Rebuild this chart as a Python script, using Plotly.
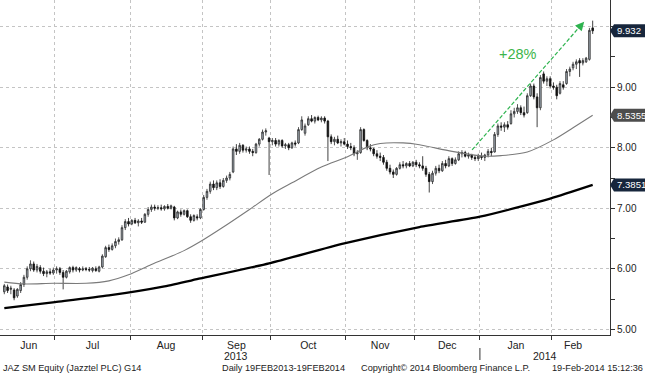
import pandas as pd
import plotly.graph_objects as go

# ---------------- data ----------------
HOLIDAYS = ["2013-12-25", "2013-12-26", "2014-01-01"]
_d = pd.bdate_range("2013-06-07", "2014-02-19")
DATES = _d[~_d.isin(pd.to_datetime(HOLIDAYS))]

OPEN = [
    # Jun
    5.62, 5.70, 5.66, 5.65, 5.55, 5.64, 5.74, 5.86, 6.00, 6.08, 5.98, 6.02, 5.96, 5.92, 5.95, 5.93,
    # Jul
    5.98, 6.00, 5.94, 5.86, 5.95, 6.02, 5.98, 6.00, 5.98, 6.00, 5.99, 5.97, 6.00, 5.96, 6.03, 6.20,
    6.35, 6.32, 6.38, 6.45, 6.48, 6.68, 6.78,
    # Aug
    6.74, 6.80, 6.76, 6.79, 6.77, 6.90, 6.98, 7.02, 7.00, 7.01, 6.99, 7.03, 7.00, 7.02, 6.84, 6.94,
    6.90, 6.96, 6.86, 6.80, 6.86, 6.84,
    # Sep
    6.98, 7.18, 7.28, 7.40, 7.34, 7.42, 7.36, 7.46, 7.50, 7.60, 7.98, 7.94, 8.04, 7.96, 7.98, 7.94,
    7.92, 8.06, 8.14, 8.26, 8.16,
    # Oct
    8.10, 8.12, 8.06, 8.12, 8.03, 8.05, 8.00, 8.08, 8.08, 8.30, 8.24, 8.38, 8.48, 8.44, 8.50, 8.46,
    8.49, 8.44, 8.18, 8.10, 8.14, 8.08, 8.10,
    # Nov
    8.06, 8.02, 8.00, 7.90, 7.92, 8.30, 8.12, 8.00, 7.98, 7.90, 7.86, 7.84, 7.76, 7.66, 7.60, 7.56,
    7.66, 7.72, 7.70, 7.74, 7.70,
    # Dec
    7.76, 7.72, 7.70, 7.66, 7.56, 7.44, 7.58, 7.66, 7.62, 7.74, 7.70, 7.82, 7.74, 7.80, 7.90, 7.92,
    7.86, 7.88, 7.84, 7.82,
    # Jan
    7.86, 7.84, 7.88, 7.94, 7.93, 8.22, 8.36, 8.34, 8.38, 8.40, 8.56, 8.60, 8.66, 8.58, 8.58, 8.86,
    9.02, 8.84, 8.66, 9.22, 9.10, 9.14,
    # Feb
    9.02, 9.00, 8.90, 9.04, 9.06, 9.26, 9.32, 9.38, 9.44, 9.40, 9.42, 9.46, 9.98,
]
HIGH = [
    5.75, 5.74, 5.72, 5.68, 5.68, 5.78, 5.90, 6.04, 6.14, 6.12, 6.08, 6.06, 6.02, 5.98, 6.00, 6.02,
    6.04, 6.03, 5.98, 5.98, 6.04, 6.05, 6.04, 6.03, 6.04, 6.03, 6.03, 6.03, 6.04, 6.05, 6.24, 6.38,
    6.40, 6.42, 6.50, 6.52, 6.72, 6.82, 6.84,
    6.82, 6.84, 6.82, 6.84, 6.92, 7.02, 7.06, 7.06, 7.05, 7.06, 7.05, 7.07, 7.06, 7.04, 6.96, 6.98,
    6.98, 6.98, 6.90, 6.90, 6.90, 7.00,
    7.22, 7.32, 7.44, 7.46, 7.46, 7.48, 7.50, 7.54, 7.60, 8.02, 8.06, 8.08, 8.06, 8.02, 8.02, 7.98,
    8.08, 8.16, 8.30, 8.32, 8.18,
    8.16, 8.16, 8.14, 8.14, 8.08, 8.08, 8.10, 8.12, 8.34, 8.52, 8.40, 8.52, 8.54, 8.52, 8.53, 8.52,
    8.52, 8.46, 8.22, 8.18, 8.20, 8.14, 8.16,
    8.12, 8.08, 8.04, 7.96, 8.34, 8.32, 8.14, 8.06, 8.00, 7.96, 7.92, 7.88, 7.80, 7.72, 7.64, 7.68,
    7.76, 7.78, 7.76, 7.78, 7.78,
    7.80, 7.76, 7.86, 7.70, 7.60, 7.62, 7.70, 7.72, 7.78, 7.80, 7.86, 7.84, 7.84, 7.94, 7.96, 7.95,
    7.92, 7.90, 7.88, 7.90,
    7.92, 7.90, 7.98, 8.00, 8.26, 8.40, 8.42, 8.42, 8.44, 8.62, 8.66, 8.72, 8.70, 8.68, 8.90, 9.06,
    9.06, 8.90, 9.20, 9.26, 9.18, 9.18,
    9.08, 9.04, 9.10, 9.10, 9.30, 9.34, 9.42, 9.46, 9.48, 9.48, 9.50, 9.98, 10.10,
]
LOW = [
    5.58, 5.60, 5.58, 5.48, 5.52, 5.60, 5.70, 5.82, 5.96, 5.95, 5.94, 5.92, 5.88, 5.86, 5.90, 5.90,
    5.92, 5.90, 5.66, 5.84, 5.92, 5.94, 5.95, 5.94, 5.96, 5.96, 5.95, 5.94, 5.95, 5.94, 6.01, 6.18,
    6.28, 6.30, 6.34, 6.40, 6.46, 6.64, 6.70,
    6.72, 6.74, 6.70, 6.74, 6.76, 6.86, 6.94, 6.96, 6.97, 6.96, 6.96, 6.98, 6.98, 6.80, 6.82, 6.86,
    6.88, 6.84, 6.76, 6.78, 6.80, 6.82,
    6.96, 7.14, 7.24, 7.30, 7.30, 7.32, 7.34, 7.42, 7.46, 7.58, 7.88, 7.90, 7.92, 7.92, 7.90, 7.86,
    7.90, 8.02, 8.12, 8.20, 7.55,
    8.04, 8.02, 8.02, 8.00, 7.98, 7.96, 7.98, 8.02, 8.06, 8.28, 8.20, 8.36, 8.42, 8.40, 8.44, 8.42,
    8.40, 7.78, 8.06, 8.04, 8.06, 8.02, 8.04,
    7.98, 7.96, 7.86, 7.80, 7.90, 8.10, 7.96, 7.94, 7.86, 7.82, 7.78, 7.72, 7.62, 7.56, 7.50, 7.54,
    7.64, 7.66, 7.66, 7.68, 7.68,
    7.68, 7.66, 7.62, 7.52, 7.26, 7.40, 7.54, 7.58, 7.60, 7.66, 7.68, 7.70, 7.72, 7.78, 7.84, 7.84,
    7.82, 7.80, 7.78, 7.78,
    7.80, 7.78, 7.84, 7.86, 7.92, 8.18, 8.28, 8.26, 8.30, 8.38, 8.50, 8.56, 8.54, 8.50, 8.56, 8.84,
    8.80, 8.34, 8.62, 9.06, 9.02, 8.98,
    8.96, 8.80, 8.88, 8.96, 9.04, 9.18, 9.28, 9.30, 9.17, 9.36, 9.40, 9.44, 9.88,
]
CLOSE = [
    5.72, 5.64, 5.68, 5.52, 5.66, 5.74, 5.86, 6.00, 6.08, 5.98, 6.04, 5.96, 5.92, 5.95, 5.93, 5.98,
    6.00, 5.94, 5.86, 5.96, 6.02, 5.98, 6.02, 5.98, 6.00, 5.99, 5.98, 6.01, 5.97, 6.03, 6.21, 6.35,
    6.32, 6.38, 6.45, 6.48, 6.68, 6.78, 6.74,
    6.80, 6.76, 6.79, 6.77, 6.90, 6.98, 7.02, 7.00, 7.01, 6.99, 7.03, 7.00, 7.04, 6.84, 6.94, 6.90,
    6.96, 6.86, 6.80, 6.88, 6.84, 6.98,
    7.18, 7.28, 7.40, 7.34, 7.42, 7.36, 7.46, 7.50, 7.56, 7.98, 7.94, 8.04, 7.96, 7.98, 7.94, 7.92,
    8.06, 8.14, 8.26, 8.28, 8.10,
    8.12, 8.06, 8.12, 8.03, 8.05, 8.00, 8.08, 8.06, 8.30, 8.46, 8.36, 8.48, 8.44, 8.50, 8.46, 8.49,
    8.44, 8.18, 8.10, 8.14, 8.08, 8.10, 8.06,
    8.02, 8.00, 7.90, 7.92, 8.30, 8.12, 8.00, 7.98, 7.90, 7.86, 7.84, 7.76, 7.66, 7.60, 7.56, 7.66,
    7.72, 7.70, 7.74, 7.70, 7.76,
    7.72, 7.70, 7.66, 7.56, 7.44, 7.58, 7.66, 7.62, 7.74, 7.70, 7.82, 7.74, 7.80, 7.90, 7.92, 7.86,
    7.88, 7.84, 7.82, 7.86,
    7.84, 7.88, 7.94, 7.92, 8.22, 8.36, 8.34, 8.38, 8.34, 8.56, 8.60, 8.66, 8.58, 8.54, 8.86, 9.02,
    8.84, 8.66, 9.16, 9.10, 9.14, 9.02,
    9.00, 8.86, 9.06, 9.00, 9.26, 9.30, 9.38, 9.42, 9.40, 9.44, 9.48, 9.94, 9.932,
]

# moving averages (trading-day index -> value)
MA50_IDX = [0, 6, 15, 25, 32, 38, 45, 55, 60, 67, 75, 82, 88, 97, 105, 111, 115, 122, 127, 137,
            147, 152, 160, 168, 174, 180]
MA50_VAL = [5.78, 5.75, 5.76, 5.76, 5.80, 5.90, 6.07, 6.30, 6.45, 6.69, 6.98, 7.24, 7.42, 7.68,
            7.85, 8.01, 8.07, 8.08, 8.05, 7.94, 7.86, 7.87, 7.93, 8.13, 8.33, 8.5355]
MA200_IDX = [0, 15.5, 32, 49, 60, 81, 104, 127, 145.5, 167, 180]
MA200_VAL = [5.35, 5.45, 5.56, 5.71, 5.84, 6.09, 6.42, 6.69, 6.86, 7.16, 7.3851]

MONTH_LABELS = ["Jun", "Jul", "Aug", "Sep", "Oct", "Nov", "Dec", "Jan", "Feb"]
Y_TICKS = [5, 6, 7, 8, 9, 10]
Y_TICKTEXT = ["5.00", "6.00", "7.00", "8.00", "9.00", ""]
TAGS = [(9.932, "9.932", "#17263c"), (8.5355, "8.5355", "#4d4d4d"), (7.3851, "7.3851", "#17263c")]

assert len(OPEN) == len(HIGH) == len(LOW) == len(CLOSE) == len(DATES)

# ---------------- geometry ----------------
IDX = list(range(len(DATES)))
XMIN, XMAX = -1.32, 185.3
YMIN, YMAX = 4.906, 10.441
W, H = 645, 376
ML, MR, MT, MB = 0, 35, 0, 41
PW, PH = W - ML - MR, H - MT - MB

months = pd.Series(IDX, index=DATES).groupby([DATES.year, DATES.month])
firsts = [g.iloc[0] for _, g in months]
lasts = [g.iloc[-1] for _, g in months]
boundaries = [f - 0.5 for f in firsts[1:]]
centers = [(max(f - 0.5, XMIN) + min(l + 0.5, XMAX)) / 2 for f, l in zip(firsts, lasts)]

FONT = "Liberation Sans"
GRID = "#c4c4c4"

fig = go.Figure()
fig.add_trace(go.Scatter(x=MA200_IDX, y=MA200_VAL, mode="lines",
                         line=dict(color="#000000", width=2.3, shape="spline", smoothing=0.6),
                         hoverinfo="skip", showlegend=False))
fig.add_trace(go.Scatter(x=MA50_IDX, y=MA50_VAL, mode="lines",
                         line=dict(color="#7a7a7a", width=1.1, shape="spline", smoothing=0.8),
                         hoverinfo="skip", showlegend=False))
fig.add_trace(go.Candlestick(
    x=IDX, open=OPEN, high=HIGH, low=LOW, close=CLOSE,
    increasing=dict(fillcolor="#a7b1bc", line=dict(color="#2a2a2a", width=0.8)),
    decreasing=dict(fillcolor="#111111", line=dict(color="#111111", width=0.8)),
    whiskerwidth=0, hoverinfo="skip", showlegend=False))

# green trend arrow (dashed shaft + arrow head)
x0a, y0a, x1a, y1a = 143.1, 7.963, 177.0, 10.06
fig.add_shape(type="line", x0=x0a, y0=y0a, x1=x1a - 1.2, y1=y1a - 0.075,
              line=dict(color="#2eb34f", width=1.2, dash="4px,2px"))
fig.add_annotation(x=x1a + 0.4, y=y1a + 0.02, ax=-7, ay=8, showarrow=True, arrowhead=2,
                   arrowsize=1.1, arrowwidth=1.6, arrowcolor="#2eb34f", text="")
fig.add_annotation(x=157.1, y=9.55, text="+28%", showarrow=False,
                   font=dict(family=FONT, size=14.5, color="#3cb54a"))

# price tags on the right
for val, txt, col in TAGS:
    yc = (val - YMIN) / (YMAX - YMIN)
    hh = 6.5 / PH
    fig.add_shape(type="path", xref="paper", yref="paper",
                  path=f"M 1 {yc} L {1 + 4 / PW} {yc + hh} L {1 + 40 / PW} {yc + hh} "
                       f"L {1 + 40 / PW} {yc - hh} L {1 + 4 / PW} {yc - hh} Z",
                  fillcolor=col, line=dict(width=0))
    fig.add_annotation(xref="paper", yref="y", x=1, y=val, xshift=5, xanchor="left",
                       text=txt, showarrow=False,
                       font=dict(family=FONT, size=9.6, color="white"))

# year labels and separator
fig.add_annotation(xref="x", yref="paper", x=centers[3], y=-(355.5 - PH) / PH, text="2013",
                   showarrow=False, yanchor="middle", font=dict(family=FONT, size=10.5, color="#222"))
fig.add_annotation(xref="x", yref="paper", x=(boundaries[6] + XMAX) / 2, y=-(355.5 - PH) / PH,
                   text="2014", showarrow=False, yanchor="middle",
                   font=dict(family=FONT, size=10.5, color="#222"))
fig.add_shape(type="line", xref="x", yref="paper", x0=boundaries[6], x1=boundaries[6],
              y0=-(348 - PH) / PH, y1=-(360 - PH) / PH, line=dict(color="#333", width=1))

# footer
foot_y = -(368 - PH) / PH
for txt, xpx, anchor in [("JAZ SM Equity (Jazztel PLC) G14", 71.5, "center"),
                         ("Daily 19FEB2013-19FEB2014", 283.5, "center"),
                         ("Copyright\u00a9 2014 Bloomberg Finance L.P.", 445.5, "center"),
                         ("19-Feb-2014 15:12:36", 597.5, "center")]:
    fig.add_annotation(xref="paper", yref="paper", x=xpx / PW, y=foot_y, text=txt,
                       showarrow=False, xanchor=anchor, yanchor="middle",
                       font=dict(family=FONT, size=9.2, color="#222"))

fig.update_layout(
    width=W, height=H, margin=dict(l=ML, r=MR, t=MT, b=MB),
    paper_bgcolor="white", plot_bgcolor="white", showlegend=False,
    xaxis=dict(range=[XMIN, XMAX], tickvals=centers, ticktext=MONTH_LABELS, ticks="",
               showgrid=False, zeroline=False, showline=True, linecolor="#333", linewidth=1,
               tickfont=dict(family=FONT, size=10.5, color="#222"),
               rangeslider=dict(visible=False),
               minor=dict(tickvals=boundaries, ticks="outside", ticklen=4, tickcolor="#333",
                          showgrid=True, gridcolor=GRID, griddash="dot", gridwidth=1)),
    yaxis=dict(range=[YMIN, YMAX], side="right", tickvals=Y_TICKS, ticktext=Y_TICKTEXT,
               ticks="outside", ticklen=4, tickcolor="#333", showgrid=True, gridcolor=GRID,
               griddash="dot", gridwidth=1, zeroline=False, showline=True, linecolor="#333",
               linewidth=1, tickfont=dict(family=FONT, size=10, color="#222"),
               minor=dict(tickvals=[5.5, 6.5, 7.5, 8.5, 9.5], ticks="outside", ticklen=4,
                          tickcolor="#333", showgrid=False)),
)

fig.write_html("out.html", config={"displayModeBar": False},
               post_script="document.body.style.margin='0';")
